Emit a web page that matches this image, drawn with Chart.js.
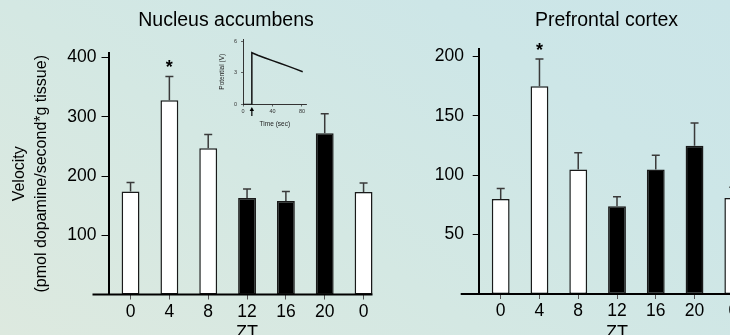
<!DOCTYPE html>
<html><head><meta charset="utf-8">
<script src="https://cdn.jsdelivr.net/npm/chart.js@4.4.1/dist/chart.umd.min.js"></script>
<style>
html,body{margin:0;padding:0;width:730px;height:335px;overflow:hidden;}
body{position:relative;background:linear-gradient(35deg,#dde9df 0%,#d4e8e3 40%,#cde6e7 75%,#cbe5e8 100%);}
canvas{position:absolute;}
#c1{left:0;top:0;}
#c2{left:430px;top:0;}
#c3{left:205px;top:30px;}
.ptitle{position:absolute;top:8px;width:300px;text-align:center;font-family:'Liberation Sans',Arial,Helvetica,sans-serif;font-size:19.5px;line-height:22px;color:#000;white-space:nowrap;}
#t1{left:76px;}
#t2{left:456.5px;}
</style></head><body>
<canvas id="c1" width="452" height="335"></canvas>
<canvas id="c2" width="353" height="335"></canvas>
<canvas id="c3" width="110" height="100"></canvas>
<div class="ptitle" id="t1"></div>
<div class="ptitle" id="t2"></div>
<script>
// ---- data ----
const panelTitles = ['Nucleus accumbens', 'Prefrontal cortex'];
const ztHours = [0, 4, 8, 12, 16, 20, 24];
const ztLabels = ['0', '4', '8', '12', '16', '20', '0'];
const lightPhase = [true, true, true, false, false, false, true];
const significant = [false, true, false, false, false, false, false];

const naVelocity = [174, 328, 247, 163, 158, 272, 173];
const naSem = [15, 40, 23, 15, 16, 33, 15];
const naTicks = [100, 200, 300, 400];

const pfcVelocity = [80, 175, 105, 74, 105, 125, 81];
const pfcSem = [9, 23, 14, 8, 12, 19, 9];
const pfcTicks = [50, 100, 150, 200];

const insetTime = [0, 12, 12, 20, 30, 40, 50, 60, 70, 81];
const insetPotential = [0, 0, 4.9, 4.66, 4.4, 4.15, 3.9, 3.66, 3.4, 3.1];
const insetTimeTicks = [0, 40, 80];
const insetPotTicks = [0, 3, 6];
const insetStimulus = 12;

// ---- rendering ----
document.getElementById('t1').textContent = panelTitles[0];
document.getElementById('t2').textContent = panelTitles[1];

const FONT = "'Liberation Sans', Arial, Helvetica, sans-serif";
Chart.defaults.font.family = FONT;
Chart.defaults.color = '#000';
Chart.defaults.animation = false;

const decor = {
  id: 'decor',
  afterDatasetsDraw(chart, args, o) {
    const {ctx, chartArea: a, scales: {x, y}} = chart;
    const meta = chart.getDatasetMeta(0);
    ctx.save();
    o.values.forEach((v, i) => {
      const px = x.getPixelForValue(o.hours[i]);
      const yb = y.getPixelForValue(v);
      const yt = y.getPixelForValue(v + o.sem[i]);
      ctx.strokeStyle = '#3a3a3a';
      ctx.lineWidth = 1.5;
      ctx.beginPath();
      ctx.moveTo(px, yb); ctx.lineTo(px, yt);
      ctx.moveTo(px - 4, yt); ctx.lineTo(px + 4, yt);
      ctx.stroke();
      if (o.sig[i]) {
        ctx.fillStyle = '#000';
        ctx.font = 'bold 18px ' + FONT;
        ctx.textAlign = 'center';
        ctx.textBaseline = 'alphabetic';
        ctx.fillText('*', px, yt - 3);
      }
    });
    const last = meta.data[meta.data.length - 1];
    const right = last.x + last.width / 2;
    ctx.strokeStyle = '#000';
    ctx.lineWidth = 2;
    ctx.beginPath();
    ctx.moveTo(a.left - o.overhang, a.bottom);
    ctx.lineTo(right, a.bottom);
    ctx.stroke();
    ctx.restore();
  }
};

function barChart(id, p) {
  return new Chart(document.getElementById(id), {
    type: 'bar',
    data: {
      datasets: [{
        data: p.values.map((v, i) => ({x: ztHours[i], y: v})),
        backgroundColor: lightPhase.map(l => l ? '#ffffff' : '#000000'),
        borderColor: '#1a1a1a',
        borderWidth: 1.5,
        borderSkipped: false,
        categoryPercentage: 1,
        barPercentage: 0.46
      }]
    },
    options: {
      responsive: false,
      animation: false,
      layout: {padding: {left: 0, top: p.padTop, right: p.padRight, bottom: 0}},
      plugins: {
        legend: {display: false},
        tooltip: {enabled: false},
        title: {display: false},
        decor: {values: p.values, sem: p.sem, hours: ztHours, sig: significant, overhang: p.overhang}
      },
      scales: {
        x: {
          type: 'linear', min: p.xMin, max: p.xMax, offset: false,
          afterBuildTicks: s => { s.ticks = ztHours.map(v => ({value: v})); },
          afterFit: s => { s.height = p.xHeight; },
          ticks: {callback: (v, i) => ztLabels[i], autoSkip: false, maxRotation: 0,
            padding: 2, color: '#000', font: {size: 17.5, family: FONT}},
          grid: {display: true, offset: false, drawOnChartArea: false, drawTicks: true,
            tickLength: 5, color: '#555', lineWidth: 1},
          border: {display: false},
          title: {display: true, text: 'ZT', color: '#000',
            font: {size: 18, family: FONT, lineHeight: 0.3}, padding: {top: 0, bottom: -1}}
        },
        y: {
          type: 'linear', min: 0, max: p.yMax,
          afterBuildTicks: s => { s.ticks = p.yTicks.map(v => ({value: v})); },
          afterFit: s => { s.width = p.yWidth; },
          ticks: {padding: p.yTickPad, color: '#000', font: {size: 17.5, family: FONT}},
          grid: {display: true, drawOnChartArea: false, drawTicks: true,
            tickLength: p.yTickLen, color: '#000', lineWidth: 1},
          border: {display: true, color: '#000', width: 2},
          title: p.yTitle ? {display: true, text: p.yTitle, color: '#000',
            font: {size: 16, family: FONT, lineHeight: 1.35}, padding: {top: 9, bottom: 0}} : {display: false}
        }
      }
    },
    plugins: [decor]
  });
}

barChart('c1', {
  values: naVelocity, sem: naSem, yTicks: naTicks, yMax: 407.6,
  yTitle: ['Velocity', '(pmol dopamine/second*g tissue)'],
  yWidth: 108.5, yTickLen: 7, yTickPad: 5, padTop: 53,
  xMin: -2.27, xMax: 26.27, padRight: 66.4, xHeight: 40.5, overhang: 16
});

barChart('c2', {
  values: pfcVelocity, sem: pfcSem, yTicks: pfcTicks, yMax: 206.2,
  yTitle: null,
  yWidth: 48.7, yTickLen: 6, yTickPad: 8.7, padTop: 49.3,
  xMin: -2.27, xMax: 26.27, padRight: 27.7, xHeight: 41, overhang: 18
});

// inset trace
const arrow = {
  id: 'arrow',
  afterDraw(chart, args, o) {
    const {ctx, chartArea: a, scales: {x}} = chart;
    const px = x.getPixelForValue(o.at);
    ctx.save();
    ctx.strokeStyle = '#000'; ctx.fillStyle = '#000'; ctx.lineWidth = 1.2;
    ctx.beginPath(); ctx.moveTo(px, a.bottom + 11.5); ctx.lineTo(px, a.bottom + 5); ctx.stroke();
    ctx.beginPath(); ctx.moveTo(px, a.bottom + 2.5); ctx.lineTo(px - 2.2, a.bottom + 6.5); ctx.lineTo(px + 2.2, a.bottom + 6.5); ctx.closePath(); ctx.fill();
    ctx.restore();
  }
};

new Chart(document.getElementById('c3'), {
  type: 'line',
  data: {datasets: [{
    data: insetTime.map((t, i) => ({x: t, y: insetPotential[i]})),
    borderColor: '#111', borderWidth: 1.5, pointRadius: 0, tension: 0, fill: false
  }]},
  options: {
    responsive: false, animation: false,
    layout: {padding: {left: 0, top: 9, right: 8.3, bottom: 0}},
    plugins: {legend: {display: false}, tooltip: {enabled: false}, arrow: {at: insetStimulus}},
    scales: {
      x: {type: 'linear', min: 0, max: 86.4,
        afterBuildTicks: s => { s.ticks = insetTimeTicks.map(v => ({value: v})); },
        afterFit: s => { s.height = 25.5; },
        ticks: {padding: 2, color: '#333', font: {size: 5.5, family: FONT, lineHeight: 1.1}, maxRotation: 0, autoSkip: false},
        grid: {drawOnChartArea: false, tickLength: 2, color: '#444', lineWidth: 0.8},
        border: {display: true, color: '#333', width: 1},
        title: {display: true, text: 'Time (sec)', color: '#222', font: {size: 6.5, family: FONT, lineHeight: 1.1}, padding: {top: 0, bottom: 2.5}}
      },
      y: {type: 'linear', min: 0, max: 6.2,
        afterBuildTicks: s => { s.ticks = insetPotTicks.map(v => ({value: v})); },
        afterFit: s => { s.width = 38; },
        ticks: {padding: 4, color: '#333', font: {size: 5.5, family: FONT}},
        grid: {drawOnChartArea: false, tickLength: 2, color: '#444', lineWidth: 0.8},
        border: {display: true, color: '#333', width: 1},
        title: {display: true, text: 'Potential (V)', color: '#222', font: {size: 6.5, family: FONT, lineHeight: 1.1}, padding: {top: 13.5, bottom: 0}}
      }
    }
  },
  plugins: [arrow]
});
</script>
</body></html>
